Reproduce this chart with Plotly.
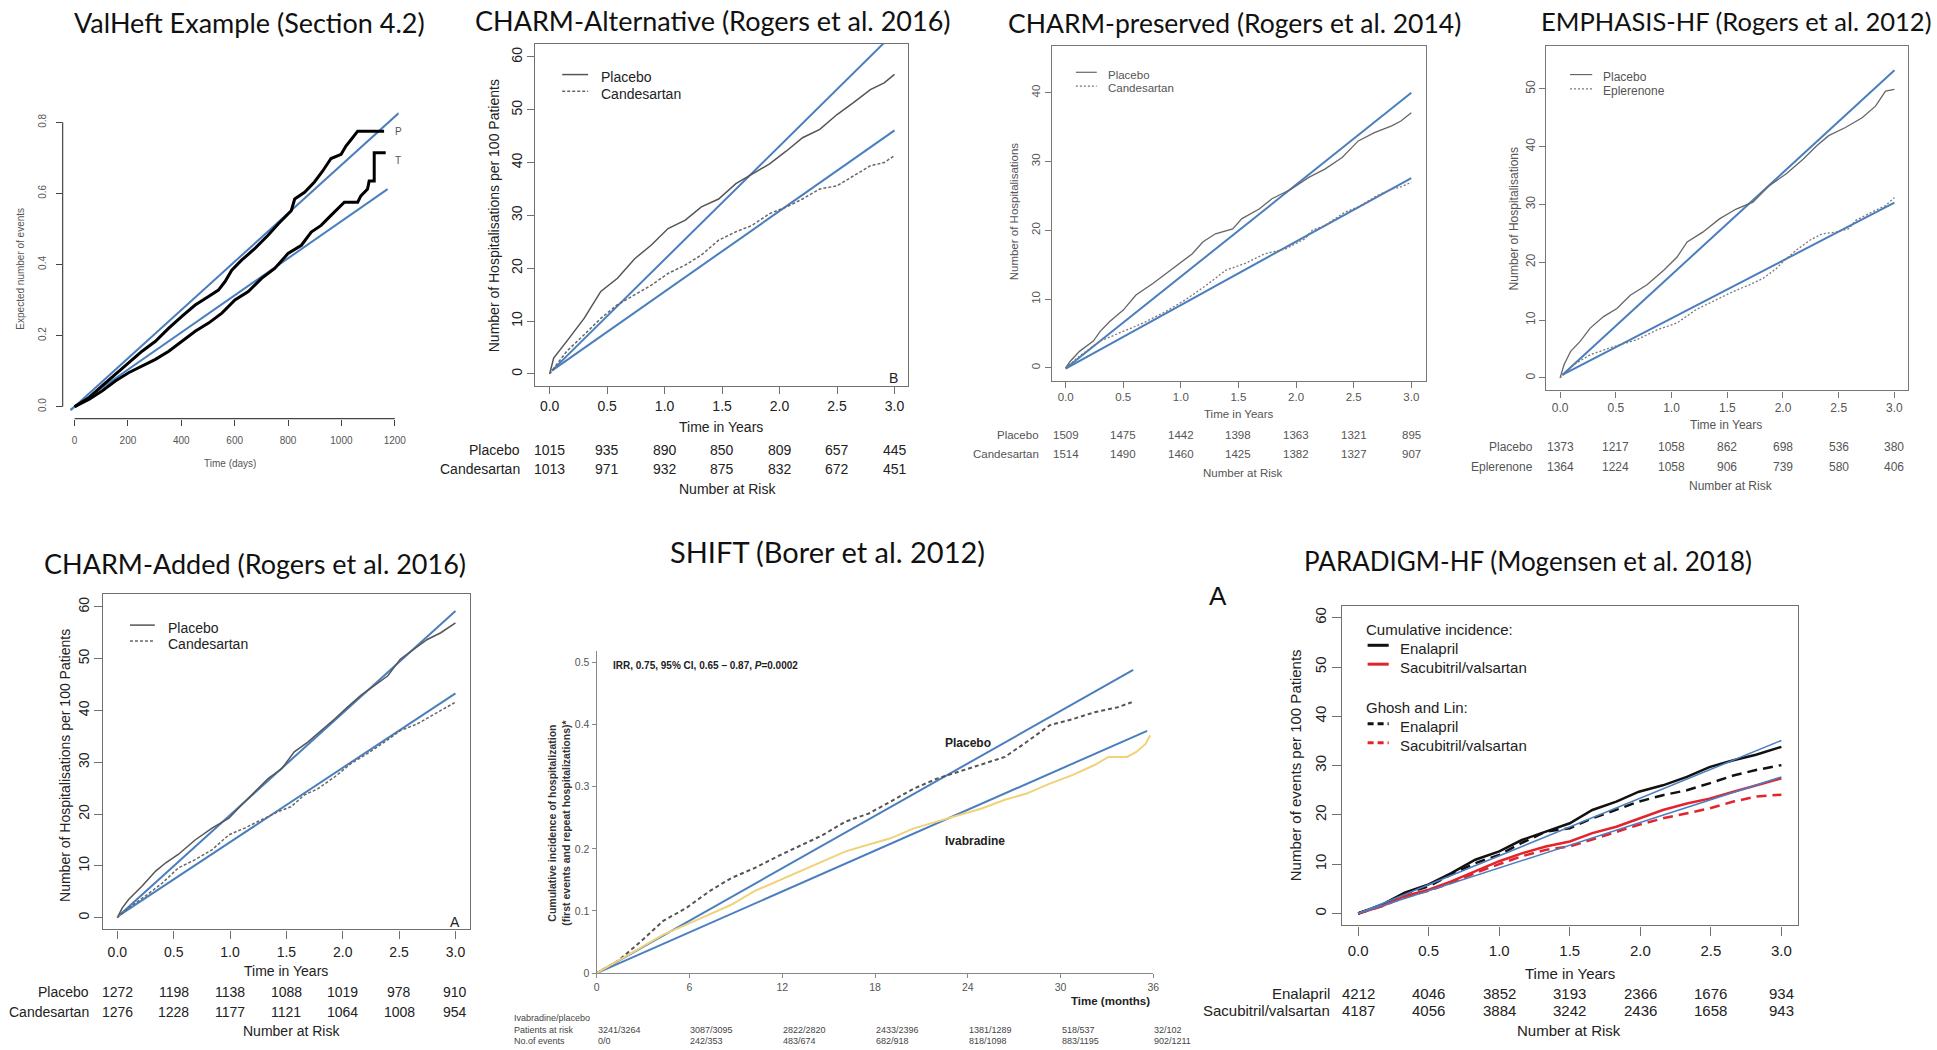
import plotly.graph_objects as go

W, H = 1937, 1050
RF = "Liberation Sans, Arial, sans-serif"
TF = "Lato, Open Sans, sans-serif"
BLUE = "#4a7ebf"

# ======================= DATA =======================
# Panel 1 : ValHeft example
vh_title = "ValHeft Example (Section 4.2)"
vh_xticks = [0, 200, 400, 600, 800, 1000, 1200]
vh_yticks = [0.0, 0.2, 0.4, 0.6, 0.8]
vh_ylabels = ["0.0", "0.2", "0.4", "0.6", "0.8"]
vh_P_days = [0, 55, 104, 154, 204, 253, 303, 353, 402, 452, 502, 539, 564, 589, 626, 676, 725, 763,
             812, 825, 862, 899, 930, 961, 999, 1017, 1036, 1061, 1160]
vh_P = [0, 0.026, 0.059, 0.091, 0.124, 0.156, 0.184, 0.221, 0.254, 0.286, 0.310, 0.328, 0.352, 0.384,
        0.412, 0.445, 0.482, 0.514, 0.551, 0.584, 0.603, 0.632, 0.663, 0.698, 0.710, 0.733, 0.751, 0.775, 0.775]
vh_T_days = [0, 55, 104, 154, 204, 253, 303, 353, 402, 452, 502, 552, 601, 651, 701, 750, 800, 850,
             887, 924, 961, 1011, 1061, 1073, 1098, 1104, 1123, 1123, 1166]
vh_T = [0, 0.021, 0.045, 0.073, 0.096, 0.114, 0.133, 0.156, 0.184, 0.212, 0.235, 0.263, 0.300, 0.324,
        0.361, 0.389, 0.431, 0.454, 0.491, 0.510, 0.538, 0.575, 0.575, 0.593, 0.612, 0.635, 0.635, 0.714, 0.714]
vh_fitP_x, vh_fitP_y = [-15, 1215], [-0.010, 0.826]
vh_fitT_x, vh_fitT_y = [-15, 1173], [-0.008, 0.612]

years = [0.0, 0.5, 1.0, 1.5, 2.0, 2.5, 3.0]
year_labels = ["0.0", "0.5", "1.0", "1.5", "2.0", "2.5", "3.0"]

# Panel 2 : CHARM-Alternative
alt_title = "CHARM-Alternative (Rogers et al. 2016)"
alt_yticks = [0, 10, 20, 30, 40, 50, 60]
alt_P_t = [0, 0.035, 0.15, 0.30, 0.445, 0.59, 0.74, 0.885, 1.03, 1.18, 1.32, 1.47, 1.62, 1.76, 1.91,
           2.06, 2.20, 2.35, 2.50, 2.64, 2.79, 2.91, 3.0]
alt_P = [0, 3.0, 6.2, 10.5, 15.6, 18.1, 21.8, 24.4, 27.5, 29.1, 31.6, 33.1, 36.0, 37.8, 39.7, 42.2,
         44.7, 46.3, 49.1, 51.3, 53.8, 55.1, 56.7]
alt_C_t = [0, 0.15, 0.30, 0.445, 0.59, 0.74, 0.885, 1.03, 1.18, 1.32, 1.47, 1.62, 1.76, 1.91, 2.06,
           2.20, 2.35, 2.50, 2.64, 2.79, 2.91, 3.0]
alt_C = [0, 4.3, 7.4, 10.5, 13.1, 14.9, 16.8, 19.0, 20.6, 22.5, 25.3, 26.9, 28.1, 30.3, 31.6, 33.1,
         35.0, 35.6, 37.5, 39.4, 40.0, 41.3]
alt_fit_x = [0.02, 2.98]
alt_fitP_y = [0.6, 64.2]
alt_fitC_x = [0.02, 3.0]
alt_fitC_y = [0.6, 46.1]
alt_risk_P = [1015, 935, 890, 850, 809, 657, 445]
alt_risk_C = [1013, 971, 932, 875, 832, 672, 451]

# Panel 3 : CHARM-preserved
pre_title = "CHARM-preserved (Rogers et al. 2014)"
pre_yticks = [0, 10, 20, 30, 40]
pre_P_t = [0, 0.04, 0.12, 0.24, 0.30, 0.38, 0.50, 0.61, 0.76, 0.87, 0.99, 1.10, 1.19, 1.30, 1.45, 1.53,
           1.68, 1.79, 1.96, 2.11, 2.25, 2.40, 2.54, 2.68, 2.83, 2.91, 3.0]
pre_P = [0, 0.96, 2.4, 3.9, 5.3, 6.7, 8.4, 10.6, 12.3, 13.7, 15.2, 16.6, 18.3, 19.5, 20.2, 21.7, 23.1,
         24.6, 26.0, 27.7, 28.9, 30.6, 33.0, 34.2, 35.2, 35.9, 37.1]
pre_C_t = [0, 0.12, 0.30, 0.50, 0.67, 0.87, 1.04, 1.22, 1.39, 1.56, 1.73, 1.91, 2.08, 2.14, 2.25, 2.42,
           2.54, 2.71, 2.83, 2.91, 3.0]
pre_C = [0, 1.7, 3.9, 5.3, 6.5, 8.2, 9.9, 12.0, 14.2, 15.2, 16.6, 17.3, 18.8, 20.0, 20.7, 22.6, 23.4,
         25.1, 26.0, 26.3, 27.0]
pre_fit_x = [0.0, 3.0]
pre_fitP_y = [-0.1, 40.0]
pre_fitC_y = [-0.1, 27.6]
pre_risk_P = [1509, 1475, 1442, 1398, 1363, 1321, 895]
pre_risk_C = [1514, 1490, 1460, 1425, 1382, 1327, 907]

# Panel 4 : EMPHASIS-HF
emp_title = "EMPHASIS-HF (Rogers et al. 2012)"
emp_yticks = [0, 10, 20, 30, 40, 50]
emp_P_t = [0, 0.036, 0.095, 0.18, 0.27, 0.39, 0.51, 0.63, 0.78, 0.93, 1.05, 1.14, 1.28, 1.43, 1.58,
           1.73, 1.88, 2.03, 2.18, 2.30, 2.41, 2.56, 2.71, 2.83, 2.92, 3.0]
emp_P = [0, 2.3, 4.6, 6.3, 8.6, 10.6, 12.0, 14.3, 16.1, 18.6, 20.9, 23.5, 25.2, 27.5, 29.2, 30.4, 33.3,
         35.3, 37.8, 40.1, 41.9, 43.3, 45.0, 47.0, 49.6, 49.9]
emp_E_t = [0, 0.125, 0.27, 0.48, 0.69, 0.87, 1.05, 1.22, 1.40, 1.55, 1.70, 1.82, 1.94, 2.0, 2.12, 2.24,
           2.35, 2.47, 2.59, 2.65, 2.80, 2.92, 3.0]
emp_E = [0, 2.3, 4.0, 5.4, 6.6, 8.3, 9.5, 11.8, 13.5, 14.9, 16.1, 17.2, 18.9, 20.1, 22.1, 23.8, 24.9,
         25.2, 25.8, 27.2, 28.7, 29.8, 31.2]
emp_fit_x = [0.02, 3.0]
emp_fitP_y = [0.5, 53.2]
emp_fitE_y = [0.5, 30.3]
emp_risk_P = [1373, 1217, 1058, 862, 698, 536, 380]
emp_risk_E = [1364, 1224, 1058, 906, 739, 580, 406]

# Panel 5 : CHARM-Added
add_title = "CHARM-Added (Rogers et al. 2016)"
add_yticks = [0, 10, 20, 30, 40, 50, 60]
add_P_t = [0, 0.044, 0.10, 0.22, 0.34, 0.43, 0.54, 0.69, 0.84, 0.99, 1.10, 1.22, 1.34, 1.46, 1.57, 1.69,
           1.81, 1.93, 2.04, 2.16, 2.28, 2.40, 2.51, 2.63, 2.75, 2.87, 3.0]
add_P = [0, 1.9, 3.5, 6.1, 9.0, 10.6, 12.2, 15.0, 17.3, 19.2, 21.7, 24.3, 26.9, 28.8, 32.0, 33.9, 36.1,
         38.4, 40.6, 42.9, 44.8, 46.7, 49.9, 51.8, 53.7, 55.0, 56.9]
add_C_t = [0, 0.10, 0.25, 0.40, 0.54, 0.69, 0.84, 0.99, 1.13, 1.28, 1.43, 1.54, 1.66, 1.78, 1.93, 2.07,
           2.22, 2.37, 2.51, 2.66, 2.81, 3.0]
add_C = [0, 1.9, 4.2, 6.7, 9.6, 11.2, 13.1, 16.0, 17.3, 18.9, 20.5, 21.4, 23.7, 24.9, 27.2, 29.7, 31.7,
         33.9, 36.1, 37.4, 39.3, 41.6]
add_fit_x = [0.02, 3.0]
add_fitP_y = [0.5, 59.2]
add_fitC_y = [0.5, 43.3]
add_risk_P = [1272, 1198, 1138, 1088, 1019, 978, 910]
add_risk_C = [1276, 1228, 1177, 1121, 1064, 1008, 954]

# Panel 6 : SHIFT
sh_title = "SHIFT (Borer et al. 2012)"
sh_xticks = [0, 6, 12, 18, 24, 30, 36]
sh_yticks = [0, 0.1, 0.2, 0.3, 0.4, 0.5]
sh_ylabels = ["0", "0.1", "0.2", "0.3", "0.4", "0.5"]
sh_P_t = [0, 1.4, 2.9, 4.3, 5.8, 7.3, 8.7, 10.2, 11.7, 13.2, 14.6, 16.1, 17.6, 19.0, 20.5, 22.0, 23.4,
          24.9, 26.4, 27.8, 29.3, 30.8, 32.2, 33.7, 34.6]
sh_P = [0, 0.020, 0.052, 0.084, 0.105, 0.132, 0.153, 0.169, 0.188, 0.206, 0.222, 0.244, 0.257, 0.276,
        0.297, 0.313, 0.324, 0.335, 0.348, 0.372, 0.399, 0.409, 0.420, 0.428, 0.436]
sh_I_t = [0, 1.4, 2.9, 4.3, 5.8, 7.3, 8.7, 10.2, 11.7, 13.2, 14.6, 16.1, 17.6, 19.0, 20.5, 22.0, 23.4,
          24.9, 26.4, 27.8, 29.3, 30.8, 32.2, 33.1, 34.3, 34.9, 35.5, 35.8]
sh_I = [0, 0.020, 0.041, 0.062, 0.078, 0.094, 0.110, 0.132, 0.148, 0.164, 0.180, 0.196, 0.207, 0.217,
        0.233, 0.244, 0.255, 0.265, 0.279, 0.289, 0.305, 0.319, 0.335, 0.348, 0.348, 0.356, 0.369, 0.383]
sh_fitP_x, sh_fitP_y = [0, 34.7], [0, 0.488]
sh_fitI_x, sh_fitI_y = [0, 35.6], [0, 0.390]
sh_at_risk = ["3241/3264", "3087/3095", "2822/2820", "2433/2396", "1381/1289", "518/537", "32/102"]
sh_events = ["0/0", "242/353", "483/674", "682/918", "818/1098", "883/1195", "902/1211"]

# Panel 7 : PARADIGM-HF
par_title = "PARADIGM-HF (Mogensen et al. 2018)"
par_yticks = [0, 10, 20, 30, 40, 50, 60]
par_t = [0, 0.17, 0.33, 0.50, 0.66, 0.83, 1.0, 1.16, 1.33, 1.50, 1.66, 1.83, 1.99, 2.16, 2.33, 2.49,
         2.66, 2.82, 3.0]
par_E = [0, 1.8, 4.2, 5.9, 8.2, 10.9, 12.6, 14.9, 16.6, 18.3, 21.0, 22.7, 24.7, 26.0, 27.7, 29.7, 31.1,
         32.2, 33.8]
par_S = [0, 1.5, 3.5, 4.8, 6.5, 8.5, 10.6, 12.2, 13.6, 14.6, 16.3, 17.6, 19.3, 21.0, 22.3, 23.3, 24.7,
         26.0, 27.4]
par_E_gl = [0, 1.8, 4.0, 5.5, 7.9, 10.2, 11.9, 14.3, 16.6, 17.3, 19.3, 21.0, 22.7, 24.0, 25.0, 26.4,
            28.0, 29.1, 30.1]
par_S_gl = [0, 1.5, 3.3, 4.6, 6.2, 8.2, 10.0, 11.6, 12.9, 13.6, 15.0, 16.6, 18.0, 19.3, 20.3, 21.3,
            22.7, 23.7, 24.1]
par_fit_x = [0.0, 3.0]
par_fitE_y = [0.0, 35.1]
par_fitS_y = [0.0, 27.7]
par_risk_E = [4212, 4046, 3852, 3193, 2366, 1676, 934]
par_risk_S = [4187, 4056, 3884, 3242, 2436, 1658, 943]

# ======================= FIGURE =======================
fig = go.Figure()
annotations = []
shapes = []


def ids(i):
    s = "" if i == 1 else str(i)
    return "xaxis" + s, "yaxis" + s, "x" + s, "y" + s


def px(x):
    return x / W


def py(y):
    return 1 - y / H


def note(x, y, text, size, color="#222", xanchor="center", yanchor="middle", family=RF, angle=0,
         xref="paper", shift=True):
    if angle == 0 and shift:
        y = y + 0.2 * size   # visual centre of glyphs sits above the text box centre
    annotations.append(dict(x=px(x) if xref == "paper" else x, y=py(y), xref=xref, yref="paper", text=text,
                            showarrow=False, xanchor=xanchor, yanchor=yanchor, textangle=angle,
                            font=dict(family=family, size=size, color=color), borderpad=0))


def axes(i, box_px, xrange, yrange, xtv, xtt, ytv, ytt, fs, col, tl, box=True, yangle=-90,
         lc="#707070", xso=None, yso=None):
    xk, yk, xa, ya = ids(i)
    l, r, t, b = box_px
    tf = dict(family=RF, size=fs, color=col)
    xd = dict(domain=[px(l), px(r)], range=xrange, anchor=ya, showgrid=False, zeroline=False,
              tickmode="array", tickvals=xtv, ticktext=xtt, ticks="outside", ticklen=tl, tickwidth=1,
              tickcolor=lc, tickfont=tf, showline=box, mirror=box, linecolor=lc, linewidth=1.3)
    yd = dict(domain=[py(b), py(t)], range=yrange, anchor=xa, showgrid=False, zeroline=False,
              tickmode="array", tickvals=ytv, ticktext=ytt, ticks="outside", ticklen=tl, tickwidth=1,
              tickcolor=lc, tickfont=tf, showline=box, mirror=box, linecolor=lc, linewidth=1.3,
              tickangle=yangle)
    if xso is not None:
        xd["ticklabelstandoff"] = xso
    if yso is not None:
        yd["ticklabelstandoff"] = yso
    fig.update_layout({xk: xd, yk: yd})


def line(i, x, y, color, width, dash="solid"):
    _, _, xa, ya = ids(i)
    fig.add_trace(go.Scatter(x=x, y=y, mode="lines", line=dict(color=color, width=width, dash=dash),
                             xaxis=xa, yaxis=ya, hoverinfo="skip", showlegend=False))


def legend_item(x0, x1, y, color, width, dash, text, tx, fs, tcol):
    shapes.append(dict(type="line", xref="paper", yref="paper", x0=px(x0), x1=px(x1), y0=py(y), y1=py(y),
                       line=dict(color=color, width=width, dash=dash)))
    note(tx, y, text, fs, tcol, xanchor="left")


def risk_table(i, ticks, rows, label_right, ys, fs, col):
    _, _, xa, _ = ids(i)
    for (name, vals), y in zip(rows, ys):
        note(label_right, y, name, fs, col, xanchor="right")
        for t, v in zip(ticks, vals):
            note(t, y, str(v), fs, col, xref=xa)


TITLE_COL = "#111"

# ---------------- Panel 1 ----------------
axes(1, (60, 398, 96, 421), [-44.7, 1214.9], [-0.0336, 0.8755], vh_xticks, [str(v) for v in vh_xticks],
     vh_yticks, vh_ylabels, 10, "#555", 6, box=False, lc="#444", xso=6, yso=6)
shapes.append(dict(type="line", xref="x", yref="y domain", x0=vh_xticks[0], x1=vh_xticks[-1], y0=0, y1=0,
                   line=dict(color="#444", width=1.2)))
shapes.append(dict(type="line", xref="x domain", yref="y", x0=0, x1=0, y0=vh_yticks[0], y1=vh_yticks[-1],
                   line=dict(color="#444", width=1.2)))
line(1, vh_fitP_x, vh_fitP_y, BLUE, 2)
line(1, vh_fitT_x, vh_fitT_y, BLUE, 2)
line(1, vh_P_days, vh_P, "#000", 3)
line(1, vh_T_days, vh_T, "#000", 3)
note(393.3, 130, "P", 10, "#555", xanchor="left")
note(393.3, 159.3, "T", 10, "#555", xanchor="left")
note(17.3, 270, "Expected number of events", 10, "#555", angle=-90)
note(228.3, 464.3, "Time (days)", 10, "#555")
note(248, 22.7, vh_title, 27, TITLE_COL, family=TF, shift=False)

# ---------------- Panel 2 ----------------
axes(2, (535.3, 910.5, 44, 388.3), [-0.125, 3.12], [-2.32, 62.5], years, year_labels,
     alt_yticks, [str(v) for v in alt_yticks], 14, "#222", 7)
line(2, alt_fit_x, alt_fitP_y, BLUE, 2)
line(2, alt_fitC_x, alt_fitC_y, BLUE, 2)
line(2, alt_P_t, alt_P, "#555", 1.5)
line(2, alt_C_t, alt_C, "#666", 1.5, "3px,2px")
legend_item(562.4, 588.5, 75, "#555", 1.5, "solid", "Placebo", 600.6, 14, "#222")
legend_item(562.4, 588.5, 91.7, "#666", 1.5, "3px,2px", "Candesartan", 600.6, 14, "#222")
note(895.9, 377.7, "B", 14, "#222")
note(494.6, 216.7, "Number of Hospitalisations per 100 Patients", 14, "#222", angle=-90)
note(722.5, 427, "Time in Years", 14, "#222")
risk_table(2, years, [("Placebo", alt_risk_P), ("Candesartan", alt_risk_C)], 520.7, [450, 469], 14, "#222")
note(728.3, 489, "Number at Risk", 14, "#222")
note(713.9, 20.7, alt_title, 27, TITLE_COL, family=TF, shift=False)

# ---------------- Panel 3 ----------------
axes(3, (1054.7, 1430.7, 46, 382.7), [-0.121, 3.124], [-1.84, 46.84], years, year_labels,
     pre_yticks, [str(v) for v in pre_yticks], 11.5, "#555", 6, lc="#777")
line(3, pre_fit_x, pre_fitP_y, BLUE, 2)
line(3, pre_fit_x, pre_fitC_y, BLUE, 2)
line(3, pre_P_t, pre_P, "#666", 1.3)
line(3, pre_C_t, pre_C, "#777", 1.3, "2px,2px")
legend_item(1079, 1100, 72.7, "#666", 1.2, "solid", "Placebo", 1110.7, 11.5, "#555")
legend_item(1079, 1100, 86.7, "#777", 1.2, "2px,2px", "Candesartan", 1110.7, 11.5, "#555")
note(1016.3, 213, "Number of Hospitalisations", 11.5, "#555", angle=-90)
note(1242.3, 414, "Time in Years", 11.5, "#555")
risk_table(3, years, [("Placebo", pre_risk_P), ("Candesartan", pre_risk_C)], 1043, [435, 454.3], 11.5, "#555")
note(1247, 473.3, "Number at Risk", 11.5, "#555")
note(1238.8, 22.7, pre_title, 26.5, TITLE_COL, family=TF, shift=False)

# ---------------- Panel 4 ----------------
axes(4, (1552.3, 1915.7, 46.7, 392.7), [-0.122, 3.12], [-2.18, 57.33], years, year_labels,
     emp_yticks, [str(v) for v in emp_yticks], 12, "#555", 6, lc="#777")
line(4, emp_fit_x, emp_fitP_y, BLUE, 2)
line(4, emp_fit_x, emp_fitE_y, BLUE, 2)
line(4, emp_P_t, emp_P, "#666", 1.3)
line(4, emp_E_t, emp_E, "#777", 1.3, "2px,2px")
legend_item(1576, 1598.3, 75, "#666", 1.2, "solid", "Placebo", 1608.3, 12, "#555")
legend_item(1576, 1598.3, 89.3, "#777", 1.2, "2px,2px", "Eplerenone", 1608.3, 12, "#555")
note(1519.3, 220, "Number of Hospitalisations", 12, "#555", angle=-90)
note(1733.3, 425.3, "Time in Years", 12, "#555")
risk_table(4, years, [("Placebo", emp_risk_P), ("Eplerenone", emp_risk_E)], 1540, [446.7, 467.3], 12, "#555")
note(1738.3, 486.7, "Number at Risk", 12, "#555")
note(1742.5, 20.7, emp_title, 25.5, TITLE_COL, family=TF, shift=False)

# ---------------- Panel 5 ----------------
axes(5, (101, 470, 597.3, 934.7), [-0.1235, 3.132], [-2.25, 62.5], years, year_labels,
     add_yticks, [str(v) for v in add_yticks], 14, "#222", 8, xso=2)
line(5, add_fit_x, add_fitP_y, BLUE, 2)
line(5, add_fit_x, add_fitC_y, BLUE, 2)
line(5, add_P_t, add_P, "#555", 1.5)
line(5, add_C_t, add_C, "#666", 1.5, "3px,2px")
legend_item(127.7, 152.7, 628.7, "#555", 1.5, "solid", "Placebo", 165, 14, "#222")
legend_item(127.7, 152.7, 644.7, "#666", 1.5, "3px,2px", "Candesartan", 165, 14, "#222")
note(455, 924.7, "A", 14, "#222")
note(61.7, 770, "Number of Hospitalisations per 100 Patients", 14, "#222", angle=-90)
note(285, 973.7, "Time in Years", 14, "#222")
risk_table(5, years, [("Placebo", add_risk_P), ("Candesartan", add_risk_C)], 87.3, [995.3, 1014.7], 14, "#222")
note(290, 1034, "Number at Risk", 14, "#222")
note(253.3, 567, add_title, 27, TITLE_COL, family=TF, shift=False)

# ---------------- Panel 6 ----------------
axes(6, (597.1, 1156.9, 654.7, 978.7), [0, 36], [0, 0.5186], sh_xticks, [str(v) for v in sh_xticks],
     sh_yticks, sh_ylabels, 10.5, "#555", 4, box=False, yangle=0, lc="#888")
fig.update_layout(xaxis6=dict(showline=True, mirror=False), yaxis6=dict(showline=True, mirror=False))
line(6, sh_fitP_x, sh_fitP_y, BLUE, 2)
line(6, sh_fitI_x, sh_fitI_y, BLUE, 2)
line(6, sh_P_t, sh_P, "#555", 2, "4px,3px")
line(6, sh_I_t, sh_I, "#f0d27a", 2)
note(612, 667.3, "<b>IRR, 0.75, 95% CI, 0.65 \u2013 0.87, <i>P</i>=0.0002</b>", 10, "#222", xanchor="left")
note(970.6, 744.7, "<b>Placebo</b>", 12, "#222")
note(977.4, 843, "<b>Ivabradine</b>", 12, "#222")
note(1113.5, 1004.7, "<b>Time (months)</b>", 11.5, "#222")
note(559.7, 828, "<b>Cumulative incidence of hospitalization<br>(first events and repeat hospitalizations)*</b>",
     10.5, "#333", angle=-90)
sh_rows_y = [1022.5, 1034, 1045.5]
note(513, sh_rows_y[0], "Ivabradine/placebo", 9, "#444", xanchor="left")
note(513, sh_rows_y[1], "Patients at risk", 9, "#444", xanchor="left")
note(513, sh_rows_y[2], "No.of events", 9, "#444", xanchor="left")
for t, a, e in zip(sh_xticks, sh_at_risk, sh_events):
    note(t, sh_rows_y[1], a, 9, "#444", xanchor="left", xref="x6")
    note(t, sh_rows_y[2], e, 9, "#444", xanchor="left", xref="x6")
note(829, 554.7, sh_title, 29, TITLE_COL, family=TF, shift=False)

# ---------------- Panel 7 ----------------
axes(7, (1346.4, 1805, 609.7, 930.7), [-0.1163, 3.116], [-2.42, 62.34], years, year_labels,
     par_yticks, [str(v) for v in par_yticks], 15, "#222", 9, xso=2)
line(7, par_t, par_E_gl, "#111", 2.5, "10px,6px")
line(7, par_t, par_S_gl, "#e3242b", 2.5, "10px,6px")
line(7, par_t, par_E, "#111", 2.5)
line(7, par_t, par_S, "#e3242b", 2.5)
line(7, par_fit_x, par_fitE_y, BLUE, 1.5)
line(7, par_fit_x, par_fitS_y, BLUE, 1.5)
note(1370, 629.7, "Cumulative incidence:", 15, "#222", xanchor="left")
legend_item(1372.4, 1393.6, 649, "#111", 3, "solid", "Enalapril", 1404, 15, "#222")
legend_item(1372.4, 1393.6, 668, "#e3242b", 3, "solid", "Sacubitril/valsartan", 1404, 15, "#222")
note(1370, 708.7, "Ghosh and Lin:", 15, "#222", xanchor="left")
legend_item(1372.4, 1393.6, 728, "#111", 3, "6px,4px", "Enalapril", 1404, 15, "#222")
legend_item(1372.4, 1393.6, 747, "#e3242b", 3, "6px,4px", "Sacubitril/valsartan", 1404, 15, "#222")
note(1221.6, 599.7, "A", 26, "#111", shift=False)
note(1299.3, 769.7, "Number of events per 100 Patients", 15, "#222", angle=-90)
note(1576.4, 976.3, "Time in Years", 15, "#222")
risk_table(7, years, [("Enalapril", par_risk_E), ("Sacubitril/valsartan", par_risk_S)], 1335.6,
           [996.3, 1013], 15, "#222")
note(1575, 1033, "Number at Risk", 15, "#222")
note(1533.7, 564, par_title, 26, TITLE_COL, family=TF, shift=False)

fig.update_layout(width=W, height=H, margin=dict(l=0, r=0, t=0, b=0), paper_bgcolor="white",
                  plot_bgcolor="white", showlegend=False, annotations=annotations, shapes=shapes)
fig.write_html("out.html", config={"displayModeBar": False})
